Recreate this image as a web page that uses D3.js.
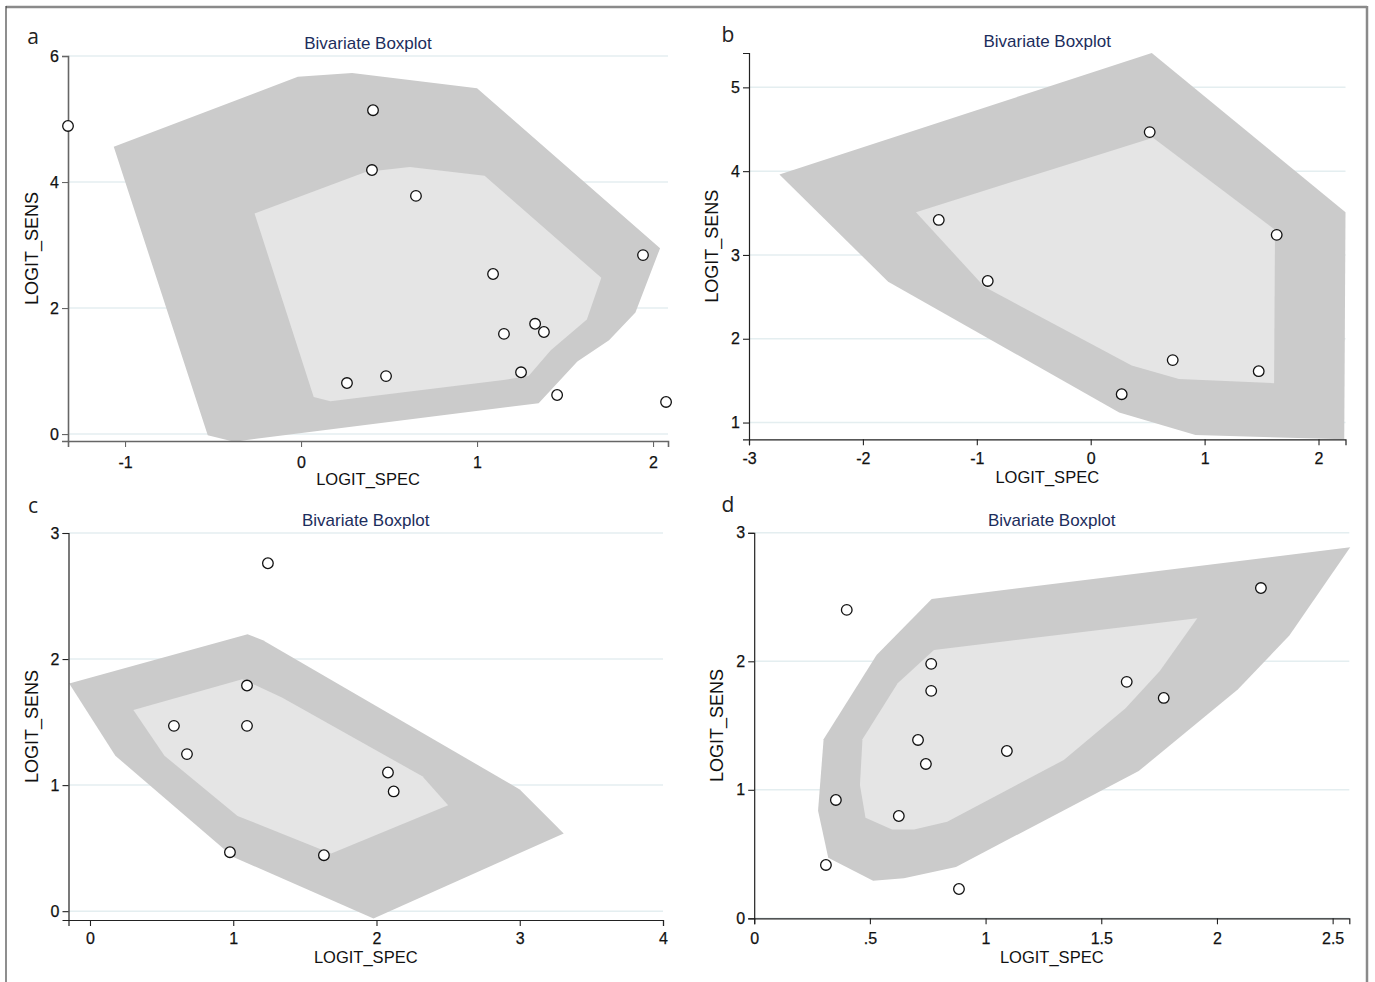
<!DOCTYPE html>
<html>
<head>
<meta charset="utf-8">
<script src="https://cdn.jsdelivr.net/npm/d3@7"></script>
<style>
  html, body { margin: 0; padding: 0; background: #fff; }
  svg { display: block; }
</style>
</head>
<body>
<svg id="chart" width="1375" height="982"></svg>
<script>
// ---- Panel a ----
const specA = [-1.324, 0.409, 0.403, 0.653, 1.091, 1.943, 1.153, 1.33, 1.38, 1.25, 1.455, 2.074, 0.261, 0.483];
const sensA = [4.89, 5.14, 4.19, 3.78, 2.54, 2.84, 1.59, 1.75, 1.62, 0.98, 0.62, 0.51, 0.81, 0.92];
const fenceSpecA = [-1.064, -0.018, 0.29, 1.0, 2.04, 1.90, 1.75, 1.57, 1.35, -0.38, -0.53];
const fenceSensA = [4.56, 5.67, 5.73, 5.49, 2.95, 1.93, 1.49, 1.15, 0.49, -0.12, -0.02];
const hingeSpecA = [-0.264, 0.367, 0.618, 1.043, 1.706, 1.624, 1.419, 1.293, 1.15, 0.167, 0.072];
const hingeSensA = [3.50, 4.16, 4.24, 4.10, 2.48, 1.82, 1.33, 0.92, 0.86, 0.52, 0.59];
const xTicksA = [-1, 0, 1, 2];
const yTicksA = [0, 2, 4, 6];

// ---- Panel b ----
const specB = [0.518, -1.334, 1.633, -0.904, 0.72, 1.475, 0.272];
const sensB = [4.466, 3.418, 3.24, 2.69, 1.745, 1.613, 1.338];
const fenceSpecB = [-2.733, 0.536, 2.237, 2.226, 0.92, 0.25, -1.778];
const fenceSensB = [3.96, 5.41, 3.51, 0.80, 0.85, 1.12, 2.68];
const hingeSpecB = [-1.534, 0.547, 1.618, 1.61, 0.775, 0.36, -0.934];
const hingeSensB = [3.51, 4.40, 3.30, 1.47, 1.52, 1.68, 2.62];
const xTicksB = [-3, -2, -1, 0, 1, 2];
const yTicksB = [1, 2, 3, 4, 5];

// ---- Panel c ----
const specC = [1.242, 1.096, 0.586, 1.096, 0.677, 2.08, 2.12, 0.977, 1.633];
const sensC = [2.76, 1.79, 1.47, 1.47, 1.246, 1.10, 0.95, 0.468, 0.444];
const fenceSpecC = [-0.145, 1.10, 1.207, 3.0, 3.307, 1.979, 1.0, 0.177];
const fenceSensC = [1.807, 2.196, 2.15, 0.966, 0.617, -0.058, 0.43, 1.233];
const hingeSpecC = [0.303, 1.063, 1.34, 2.32, 2.50, 1.684, 1.03, 0.52];
const hingeSensC = [1.595, 1.84, 1.696, 1.07, 0.84, 0.458, 0.756, 1.233];
const xTicksC = [0, 1, 2, 3, 4];
const yTicksC = [0, 1, 2, 3];

// ---- Panel d ----
const specD = [0.40, 2.19, 0.765, 0.765, 1.61, 1.77, 0.708, 0.742, 1.092, 0.353, 0.625, 0.31, 0.885];
const sensD = [2.40, 2.57, 1.98, 1.77, 1.84, 1.715, 1.388, 1.201, 1.302, 0.921, 0.796, 0.415, 0.228];
const fenceSpecD = [2.576, 2.313, 2.09, 1.662, 0.872, 0.647, 0.514, 0.32, 0.276, 0.30, 0.529, 0.767];
const fenceSensD = [2.887, 2.20, 1.78, 1.146, 0.40, 0.311, 0.293, 0.472, 0.837, 1.393, 2.049, 2.485];
const hingeSpecD = [1.915, 1.753, 1.605, 1.338, 0.834, 0.691, 0.596, 0.481, 0.457, 0.468, 0.62, 0.777];
const hingeSensD = [2.335, 1.925, 1.634, 1.232, 0.752, 0.692, 0.692, 0.783, 1.037, 1.393, 1.829, 2.088];
const xTicksD = [0, 0.5, 1, 1.5, 2, 2.5];
const xTickLabelsD = ["0", ".5", "1", "1.5", "2", "2.5"];
const yTicksD = [0, 1, 2, 3];

const titleText = "Bivariate Boxplot";
const xTitle = "LOGIT_SPEC";
const yTitle = "LOGIT_SENS";

// Layout of each panel: axis extents in data units and pixel boxes
const panels = [
  { letter: "a", spec: specA, sens: sensA, fx: fenceSpecA, fy: fenceSensA, hx: hingeSpecA, hy: hingeSensA,
    xTicks: xTicksA, yTicks: yTicksA, grid: yTicksA,
    xDom: [-1.324, 2.085], yDom: [-0.11, 6], left: 68, right: 668, top: 56, bottom: 441,
    axisColor: "#666", axisWidth: 1.6,
    letterPos: [33, 36], titleY: 43, xTitleY: 479, yTitleX: 32, xLabY: 462 },
  { letter: "b", spec: specB, sens: sensB, fx: fenceSpecB, fy: fenceSensB, hx: hingeSpecB, hy: hingeSensB,
    xTicks: xTicksB, yTicks: yTicksB, grid: yTicksB,
    xDom: [-3, 2.237], yDom: [0.80, 5.41], left: 749, right: 1345.5, top: 53, bottom: 439.3,
    axisColor: "#222", axisWidth: 1.2,
    letterPos: [728, 34], titleY: 41, xTitleY: 476.5, yTitleX: 712, xLabY: 458.5 },
  { letter: "c", spec: specC, sens: sensC, fx: fenceSpecC, fy: fenceSensC, hx: hingeSpecC, hy: hingeSensC,
    xTicks: xTicksC, yTicks: yTicksC, grid: yTicksC,
    xDom: [-0.15, 4], yDom: [-0.07, 3], left: 68.5, right: 663, top: 533, bottom: 920,
    axisColor: "#222", axisWidth: 1.2,
    letterPos: [33, 505], titleY: 520, xTitleY: 956.5, yTitleX: 32, xLabY: 938.5 },
  { letter: "d", spec: specD, sens: sensD, fx: fenceSpecD, fy: fenceSensD, hx: hingeSpecD, hy: hingeSensD,
    xTicks: xTicksD, xLabels: xTickLabelsD, yTicks: yTicksD, grid: yTicksD,
    xDom: [0, 2.572], yDom: [0, 3], left: 754.2, right: 1349.3, top: 532.8, bottom: 918.3,
    axisColor: "#222", axisWidth: 1.2,
    letterPos: [728, 504], titleY: 520, xTitleY: 956.5, yTitleX: 717, xLabY: 938.5 }
];

const svg = d3.select("#chart");

// outer frame
svg.append("line").attr("x1", 6).attr("x2", 1367).attr("y1", 7).attr("y2", 7)
  .attr("stroke", "#8a8a8a").attr("stroke-width", 2.5);
svg.append("line").attr("x1", 6).attr("x2", 6).attr("y1", 6).attr("y2", 982)
  .attr("stroke", "#444").attr("stroke-width", 1.2);
svg.append("line").attr("x1", 1367).attr("x2", 1367).attr("y1", 6).attr("y2", 982)
  .attr("stroke", "#8a8a8a").attr("stroke-width", 2.5);

const tickFont = "'Liberation Sans', Arial, sans-serif";
const plainNum = d => String(d);

panels.forEach(p => {
  const x = d3.scaleLinear().domain(p.xDom).range([p.left, p.right]);
  const y = d3.scaleLinear().domain(p.yDom).range([p.bottom, p.top]);
  const g = svg.append("g");

  // horizontal gridlines
  g.selectAll(".grid").data(p.grid).join("line")
    .attr("x1", p.left).attr("x2", p.right)
    .attr("y1", d => y(d)).attr("y2", d => y(d))
    .attr("stroke", "#e4eef0").attr("stroke-width", 1.5);

  const line = d3.line().x(d => x(d[0])).y(d => y(d[1])).curve(d3.curveLinearClosed);

  // fence (outer) and hinge (inner) polygons
  g.append("path").datum(d3.zip(p.fx, p.fy)).attr("d", line).attr("fill", "#cbcbcb");
  g.append("path").datum(d3.zip(p.hx, p.hy)).attr("d", line).attr("fill", "#e5e5e5");

  // axes
  const xAxis = d3.axisBottom(x).tickValues(p.xTicks).tickSizeOuter(0).tickSize(6).tickPadding(4)
    .tickFormat(p.xLabels ? ((d, i) => p.xLabels[i]) : plainNum);
  const yAxis = d3.axisLeft(y).tickValues(p.yTicks).tickSizeOuter(0).tickSize(6).tickPadding(3)
    .tickFormat(plainNum);

  const gx = g.append("g").attr("transform", `translate(0,${p.bottom})`).call(xAxis);
  const gy = g.append("g").attr("transform", `translate(${p.left},0)`).call(yAxis);
  [gx, gy].forEach(a => {
    a.attr("font-size", 16).attr("font-family", tickFont);
    a.select(".domain").attr("stroke", p.axisColor).attr("stroke-width", p.axisWidth);
    a.selectAll(".tick line").attr("stroke", p.axisColor).attr("stroke-width", 1.1);
    a.selectAll(".tick text").attr("fill", "#111").attr("stroke", "#111").attr("stroke-width", 0.25);
  });
  gx.selectAll(".tick text").attr("dy", null)
    .attr("y", p.xLabY - p.bottom).attr("dominant-baseline", "central");

  // points
  g.selectAll(".pt").data(d3.zip(p.spec, p.sens)).join("circle")
    .attr("cx", d => x(d[0])).attr("cy", d => y(d[1])).attr("r", 5.3)
    .attr("fill", "#fff").attr("stroke", "#111").attr("stroke-width", 1.3);

  const cx = (p.left + p.right) / 2;
  // title
  g.append("text").attr("x", cx).attr("y", p.titleY).attr("text-anchor", "middle")
    .attr("dominant-baseline", "central")
    .style("font-family", tickFont).style("font-size", "17px").attr("fill", "#1c2d5c")
    .text(titleText);
  // axis titles
  g.append("text").attr("x", cx).attr("y", p.xTitleY).attr("text-anchor", "middle")
    .attr("dominant-baseline", "central")
    .style("font-family", tickFont).style("font-size", "16.5px").attr("fill", "#111")
    .text(xTitle);
  const yc = (p.top + p.bottom) / 2;
  g.append("text").attr("transform", `translate(${p.yTitleX},${yc}) rotate(-90)`)
    .attr("text-anchor", "middle").attr("dominant-baseline", "central")
    .style("font-family", tickFont).style("font-size", "18px").attr("fill", "#111")
    .text(yTitle);
  // panel letter
  g.append("text").attr("x", p.letterPos[0]).attr("y", p.letterPos[1])
    .attr("text-anchor", "middle").attr("dominant-baseline", "central")
    .style("font-family", "'Open Sans', sans-serif").style("font-size", "21px").attr("fill", "#222")
    .text(p.letter);
});
</script>
</body>
</html>
